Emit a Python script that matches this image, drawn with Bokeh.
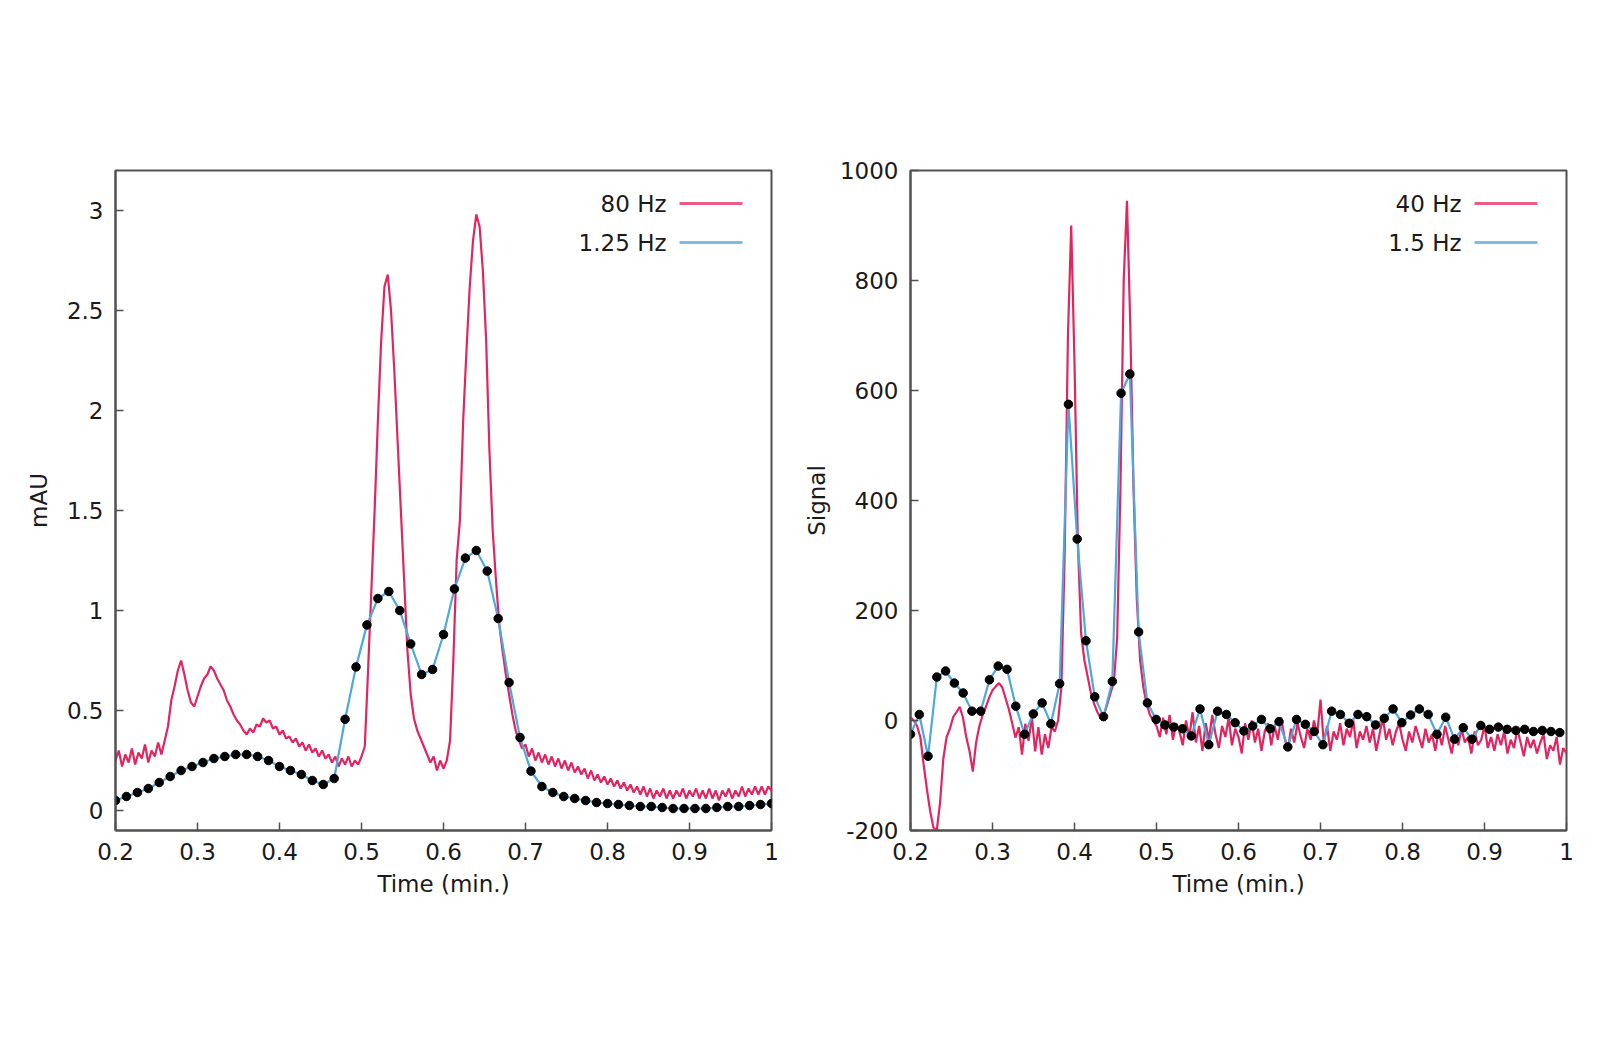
import numpy as np
from bokeh.plotting import figure
from bokeh.layouts import row
from bokeh.models import Range1d, FixedTicker, CustomJSTickFormatter, Label, BoxAnnotation
from bokeh.embed import file_html
from bokeh.resources import INLINE

# ---------------- data ----------------
T_START = 0.2          # min
DT_FAST = 0.004        # resampled step of the fast traces (min)
DT_LEFT_SLOW = 0.8 / 60.0   # 1.25 Hz -> 0.8 s
DT_RIGHT_SLOW = 0.0107      # 1.5 Hz trace, as plotted

# Left panel, 80 Hz trace (mAU), rows of 10 samples = 0.04 min
left_80hz = [
    0.25, 0.30, 0.22, 0.28, 0.24, 0.31, 0.23, 0.29, 0.26, 0.33,
    0.24, 0.30, 0.27, 0.34, 0.28, 0.35, 0.42, 0.55, 0.62, 0.70,
    0.75, 0.68, 0.60, 0.54, 0.52, 0.57, 0.62, 0.66, 0.68, 0.72,
    0.70, 0.66, 0.63, 0.60, 0.55, 0.52, 0.48, 0.45, 0.43, 0.40,
    0.38, 0.41, 0.39, 0.43, 0.42, 0.46, 0.44, 0.45, 0.41, 0.42,
    0.38, 0.40, 0.36, 0.37, 0.34, 0.36, 0.32, 0.34, 0.30, 0.33,
    0.29, 0.31, 0.27, 0.30, 0.26, 0.28, 0.24, 0.27, 0.22, 0.26,
    0.23, 0.27, 0.22, 0.25, 0.23, 0.27, 0.32, 0.70, 1.10, 1.50,
    1.95, 2.35, 2.62, 2.68, 2.50, 2.20, 1.85, 1.50, 1.15, 0.80,
    0.58, 0.46, 0.40, 0.36, 0.32, 0.28, 0.24, 0.27, 0.20, 0.25,
    0.21, 0.25, 0.35, 0.75, 1.25, 1.45, 1.95, 2.30, 2.62, 2.85,
    2.98, 2.92, 2.70, 2.35, 1.80, 1.40, 1.15, 0.93, 0.80, 0.68,
    0.58, 0.48, 0.40, 0.35, 0.31, 0.33, 0.27, 0.31, 0.25, 0.29,
    0.24, 0.28, 0.23, 0.27, 0.22, 0.26, 0.21, 0.25, 0.20, 0.24,
    0.19, 0.22, 0.18, 0.21, 0.16, 0.20, 0.15, 0.18, 0.14, 0.17,
    0.13, 0.16, 0.12, 0.15, 0.11, 0.14, 0.10, 0.13, 0.09, 0.12,
    0.08, 0.12, 0.07, 0.11, 0.06, 0.10, 0.07, 0.11, 0.06, 0.10,
    0.06, 0.10, 0.07, 0.11, 0.06, 0.10, 0.07, 0.11, 0.06, 0.10,
    0.06, 0.11, 0.06, 0.10, 0.05, 0.10, 0.07, 0.11, 0.06, 0.10,
    0.07, 0.12, 0.07, 0.11, 0.08, 0.12, 0.08, 0.12, 0.08, 0.12,
    0.10,
]

# Left panel, 1.25 Hz trace (mAU)
left_125hz = [
    0.05, 0.07, 0.09, 0.11, 0.14, 0.17, 0.20, 0.22, 0.24, 0.26,
    0.27, 0.28, 0.28, 0.27, 0.25, 0.22, 0.20, 0.18, 0.15, 0.13,
    0.16, 0.456, 0.718, 0.928, 1.06, 1.095, 1.00, 0.833, 0.68, 0.705,
    0.88, 1.108, 1.262, 1.30, 1.197, 0.96, 0.64, 0.365, 0.197, 0.12,
    0.09, 0.07, 0.06, 0.05, 0.04, 0.035, 0.03, 0.025, 0.02, 0.02,
    0.015, 0.01, 0.01, 0.01, 0.01, 0.015, 0.02, 0.02, 0.025, 0.03,
    0.035,
]

# Right panel, 40 Hz trace (signal), rows of 10 samples = 0.04 min
right_40hz = [
    6, 0, -10, -30, -80, -125, -165, -195, -200, -150,
    -70, -30, -15, 6, 15, 25, 5, -30, -56, -93,
    -40, -10, 10, 25, 42, 55, 62, 68, 60, 40,
    20, -5, -31, -12, -62, -6, -37, 6, -56, -12,
    -62, -25, -50, -12, -20, 0, 60, 300, 700, 900,
    650, 330, 160, 110, 80, 50, 30, 15, 5, 10,
    30, 50, 70, 150, 420, 800, 945, 720, 420, 220,
    110, 60, 30, 10, 0, -10, -30, 5, -25, 10,
    -35, -5, -20, -45, 0, -30, 15, -40, -10, -55,
    -5, -35, 10, -25, -50, -10, -30, 5, -45, -15,
    -30, -60, -5, -35, 0, -40, -15, -55, -20, -5,
    -45, -10, -35, 5, -30, -55, -15, -40, -5, -30,
    -50, -15, -35, 0, -25, 38, -40, -10, -55, -20,
    -35, -5, -45, -15, -30, 0, -50, -20, -35, -10,
    -40, -15, -55, -25, 5, -35, -15, -45, -20, -5,
    -35, -55, -20, -40, -10, -30, -50, -15, -40, -25,
    -55, -20, -45, -10, -35, -60, -25, -45, -15, -40,
    -30, -60, -20, -45, -35, -10, -50, -30, -55, -25,
    -45, -20, -60, -35, -50, -15, -40, -65, -30, -50,
    -35, -60, -40, -25, -70, -45, -55, -30, -80, -50,
    -60,
]

# Right panel, 1.5 Hz trace (signal)
right_15hz = [
    -25, 11, -65, 79, 90, 68, 50, 17, 17, 74,
    99, 93, 26, -25, 12, 32, -6, 67, 575, 330,
    145, 43, 7, 71, 595, 630, 161, 32, 2, -8,
    -12, -15, -28, 21, -44, 17, 11, -4, -19, -10,
    2, -15, -2, -48, 2, -7, -20, -44, 17, 11,
    -5, 11, 7, -8, 4, 21, -4, 10, 21, 11,
    -25, 6, -34, -13, -34, -9, -16, -12, -16, -18,
    -16, -20, -18, -20, -22,
]

x_ticks = [0.2, 0.3, 0.4, 0.5, 0.6, 0.7, 0.8, 0.9, 1.0]
left_y_ticks = [0, 0.5, 1, 1.5, 2, 2.5, 3]
right_y_ticks = [-200, 0, 200, 400, 600, 800, 1000]

left_labels = ["80 Hz", "1.25 Hz"]
right_labels = ["40 Hz", "1.5 Hz"]

RED = "#e3255f"
BLUE = "#4fa8dc"
FRAME = "#505050"
TXT = "#1a1a1a"
FONT = "DejaVu Sans"
FS = "23px"


def times(vals, dt):
    return T_START + dt * np.arange(len(vals))


def make_panel(fast, slow, dt_slow, yrange, yticks, ylabel, labels,
               left_border, right_border, ylabel_standoff):
    p = figure(frame_width=656, frame_height=660,
               min_border_left=left_border, min_border_right=right_border,
               min_border_top=170, min_border_bottom=100,
               x_range=Range1d(0.2, 1.0), y_range=Range1d(*yrange),
               output_backend="svg", toolbar_location=None,
               background_fill_color="white", border_fill_color="white")
    p.grid.visible = False
    p.outline_line_color = FRAME
    p.outline_line_width = 2

    fmt = CustomJSTickFormatter(code="return String(Math.round(tick*1000)/1000);")
    p.xaxis.ticker = FixedTicker(ticks=x_ticks)
    p.yaxis.ticker = FixedTicker(ticks=yticks)
    for ax in (p.xaxis, p.yaxis):
        ax.formatter = fmt
        ax.axis_line_color = FRAME
        ax.axis_line_width = 2
        ax.major_tick_line_color = FRAME
        ax.major_tick_line_width = 1.5
        ax.major_tick_in = 8
        ax.major_tick_out = 0
        ax.minor_tick_line_color = None
        ax.major_label_text_font = FONT
        ax.major_label_text_font_size = FS
        ax.major_label_text_color = TXT
        ax.major_label_standoff = 12
        ax.axis_label_text_font = FONT
        ax.axis_label_text_font_size = FS
        ax.axis_label_text_font_style = "normal"
        ax.axis_label_text_color = TXT
    p.xaxis.axis_label = "Time (min.)"
    p.xaxis.axis_label_standoff = 8
    p.yaxis.axis_label = ylabel
    p.yaxis.axis_label_standoff = ylabel_standoff

    tf = times(fast, DT_FAST)
    ts = times(slow, dt_slow)
    p.line(tf, fast, line_color=RED, line_width=2.2)
    p.line(ts, slow, line_color=BLUE, line_width=2.2)
    p.scatter(ts, slow, size=8.5, fill_color="black", line_color="black")

    # key: label on the left, line sample on the right
    for lab, col, yy in zip(labels, [RED, BLUE], [627, 588]):
        p.add_layout(Label(x=551, y=yy, x_units="screen", y_units="screen",
                           text=lab, text_align="right", text_baseline="middle",
                           text_font=FONT, text_font_size=FS, text_color=TXT))
        p.add_layout(BoxAnnotation(left=564, right=627, bottom=yy - 1.5, top=yy + 1.5,
                                   left_units="screen", right_units="screen",
                                   bottom_units="screen", top_units="screen",
                                   fill_color=col, fill_alpha=0.75, line_color=None))
    return p


p1 = make_panel(left_80hz, left_125hz, DT_LEFT_SLOW, (-0.1, 3.2), left_y_ticks,
                "mAU", left_labels, 115, 25, 12)
p2 = make_panel(right_40hz, right_15hz, DT_RIGHT_SLOW, (-200, 1000), right_y_ticks,
                "Signal", right_labels, 114, 16, 7)

layout = row(p1, p2)
open("out.html", "w").write(file_html(layout, INLINE))
